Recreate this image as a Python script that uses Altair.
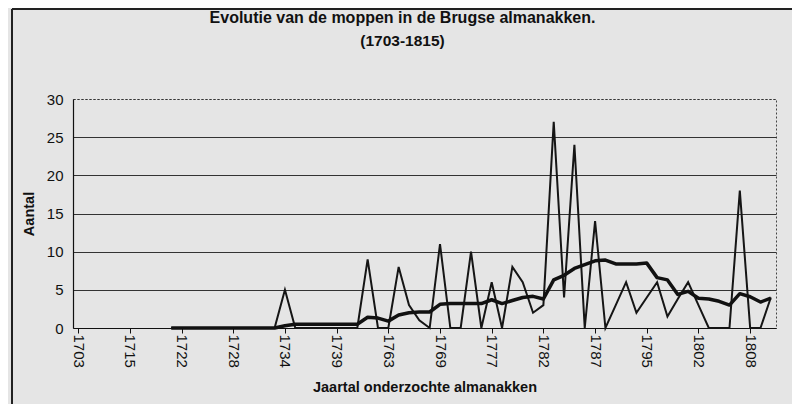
import altair as alt
import pandas as pd

# ---- data ----
tick_years = ["1703", "1715", "1722", "1728", "1734", "1739", "1763",
              "1769", "1777", "1782", "1787", "1795", "1802", "1808"]
n_categories = 68
label_step = 5

counts = ([None] * 9 + [0] * 11 + [5] + [0] * 7 +
          [9, 0, 0, 8, 3, 1, 0, 11, 0, 0, 10, 0, 6, 0, 8, 6, 2, 3, 27, 4,
           24, 0, 14, 0, 3, 6, 2, 4, 6, 1.5, 3.8, 6, 3, 0, 0, 0, 18, 0, 0, 4])

trend = ([None] * 9 + [0] * 11 + [0.3] + [0.5] * 7 +
         [1.4, 1.3, 0.9, 1.7, 2.0, 2.1, 2.1, 3.1, 3.2, 3.2, 3.2, 3.2, 3.7, 3.2,
          3.6, 4.0, 4.15, 3.8, 6.3, 6.9, 7.8, 8.3, 8.8, 8.9, 8.4, 8.4, 8.4, 8.5,
          6.6, 6.3, 4.4, 4.8, 3.9, 3.8, 3.5, 3.0, 4.5, 4.1, 3.4, 3.9])

y_ticks = [0, 5, 10, 15, 20, 25, 30]

rows = []
for i in range(n_categories):
    if counts[i] is not None:
        rows.append({"idx": i, "value": counts[i], "series": "Aantal"})
    if trend[i] is not None:
        rows.append({"idx": i, "value": trend[i], "series": "Trend"})
df = pd.DataFrame(rows)

FONT = "Liberation Sans"
label_expr = "[" + ",".join("'%s'" % y for y in tick_years) + "][round(datum.value/%d)]" % label_step

x_axis = alt.Axis(
    values=list(range(0, n_categories, label_step)),
    labelExpr=label_expr,
    labelAngle=90, labelAlign="left", labelBaseline="middle",
    labelFontSize=15, labelFont=FONT, labelColor="#111", labelPadding=1,
    ticks=True, tickSize=5, tickColor="#111",
    domainColor="#111", domainWidth=1.2,
    grid=False,
    title="Jaartal onderzochte almanakken",
    titleFont=FONT, titleFontSize=14.5, titleFontWeight="bold",
    titleColor="#111", titlePadding=13,
)
y_axis = alt.Axis(
    values=y_ticks,
    labelOverlap=False,
    labelFontSize=15, labelFont=FONT, labelColor="#111", labelPadding=10,
    ticks=False,
    domainColor="#111", domainWidth=1.2,
    grid=True, gridColor="#333", gridWidth=1.1,
    gridDash={"condition": {"test": "datum.value == 30", "value": [2, 2]}, "value": []},
    title="Aantal",
    titleFont=FONT, titleFontSize=14.5, titleFontWeight="bold",
    titleColor="#111", titlePadding=10,
)
x_scale = alt.Scale(domain=[-0.5, n_categories - 0.5], nice=False, zero=False)
y_scale = alt.Scale(domain=[0, 30], nice=False)

x_enc = alt.X("idx:Q", scale=x_scale, axis=x_axis)
y_enc = alt.Y("value:Q", scale=y_scale, axis=y_axis)

base = alt.Chart(df)

thin = base.transform_filter(alt.datum.series == "Aantal").mark_line(
    color="#151515", strokeWidth=2.0
).encode(x=x_enc, y=y_enc)

thick = base.transform_filter(alt.datum.series == "Trend").mark_line(
    color="#111111", strokeWidth=3.5, strokeJoin="round"
).encode(x=x_enc, y=y_enc)

frame_left = alt.Chart(alt.Data(values=[{}])).mark_rule(
    color="#222", strokeWidth=2
).encode(x=alt.value(-61), y=alt.value(-90), y2=alt.value(320))

frame_top = alt.Chart(alt.Data(values=[{}])).mark_rule(
    color="#222", strokeWidth=2
).encode(x=alt.value(-61), x2=alt.value(740), y=alt.value(-90))

chart = alt.layer(thin, thick, frame_left, frame_top).properties(
    width=703,
    height=229,
    autosize=alt.AutoSizeParams(type="none"),
    padding={"left": 65, "top": 91, "right": 16, "bottom": 76},
    background="#e5e5e5",
    title=alt.TitleParams(
        text="Evolutie van de moppen in de Brugse almanakken.",
        subtitle="(1703-1815)",
        font=FONT, fontSize=16, fontWeight="bold", color="#111",
        subtitleFont=FONT, subtitleFontSize=15.5, subtitleFontWeight="bold",
        subtitleColor="#111", subtitlePadding=8,
        anchor="middle", dx=-22, offset=-41,
    ),
).configure_view(
    stroke="#444", strokeDash=[2, 2], strokeWidth=1
)

chart.save("out.html", embed_options={"renderer": "svg", "actions": False})
